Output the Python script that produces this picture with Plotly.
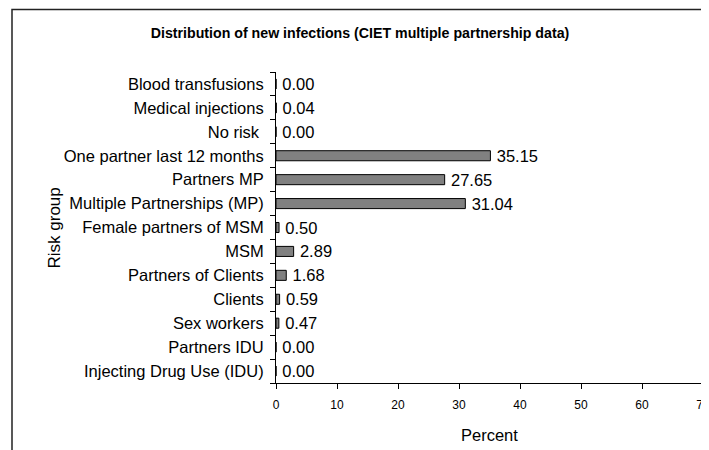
import plotly.graph_objects as go

# risk groups, top to bottom as in the chart
groups = [
    "Blood transfusions",
    "Medical injections",
    "No risk ",
    "One partner last 12 months",
    "Partners MP",
    "Multiple Partnerships (MP)",
    "Female partners of MSM",
    "MSM",
    "Partners of Clients",
    "Clients",
    "Sex workers",
    "Partners IDU",
    "Injecting Drug Use (IDU)",
]
percent = [0.00, 0.04, 0.00, 35.15, 27.65, 31.04, 0.50, 2.89, 1.68, 0.59, 0.47, 0.00, 0.00]
x_ticks = [0, 10, 20, 30, 40, 50, 60, 70]

font_family = "Liberation Sans, Arial, sans-serif"

# page body has an 8px margin, so the figure is drawn 8px smaller / shifted
OFF = 8

fig = go.Figure()
fig.add_trace(go.Bar(
    x=percent,
    y=groups,
    orientation="h",
    marker=dict(color="#808080", line=dict(color="black", width=1)),
    text=percent,
    texttemplate="\u2009%{x:.2f}",
    textposition="outside",
    constraintext="none",
    textfont=dict(size=16.5, color="black", family=font_family),
    cliponaxis=False,
))

fig.update_layout(
    width=709 - OFF,
    height=450 - OFF,
    margin=dict(l=276 - OFF, r=6, t=72 - OFF, b=67, pad=0),
    paper_bgcolor="white",
    plot_bgcolor="white",
    showlegend=False,
    bargap=0.58,
    font=dict(family=font_family, size=16.5, color="black"),
    title=dict(
        text="<b>Distribution of new infections (CIET multiple partnership data)</b>",
        font=dict(size=14.2, family=font_family, color="black"),
        x=(360 - OFF) / (709 - OFF), xanchor="center",
        y=1 - (33 - OFF) / (450 - OFF), yanchor="middle",
    ),
)

fig.update_xaxes(
    range=[0, 70],
    tickvals=x_ticks,
    ticks="outside",
    ticklen=5,
    tickcolor="black",
    tickfont=dict(size=12),
    ticklabelstandoff=6,
    ticklabeloverflow="allow",
    showline=True,
    linecolor="black",
    linewidth=1,
    showgrid=False,
    zeroline=False,
    automargin=False,
)
fig.update_yaxes(
    categoryorder="array",
    categoryarray=groups[::-1],
    ticks="outside",
    tickson="boundaries",
    ticklen=5,
    tickcolor="black",
    tickfont=dict(size=16.5),
    showline=True,
    linecolor="black",
    linewidth=1,
    showgrid=False,
    ticklabelstandoff=8,
    automargin=False,
)

# axis titles
fig.add_annotation(text="Risk group", xref="paper", yref="paper",
                   x=(42 - 276) / 427, y=(383 - 228) / 311, textangle=-90,
                   showarrow=False, font=dict(size=17))
fig.add_annotation(text="Percent", xref="paper", yref="paper",
                   x=0.499, y=(383 - 435) / 311, yanchor="middle",
                   showarrow=False, font=dict(size=16.5))

# chart frame
fig.add_shape(type="rect", xref="paper", yref="paper",
              x0=(12 - 276) / 427, x1=1.1, y0=-0.4, y1=(383 - 9.5) / 311,
              line=dict(color="#222222", width=1.5), layer="below")

fig.write_html("out.html")
